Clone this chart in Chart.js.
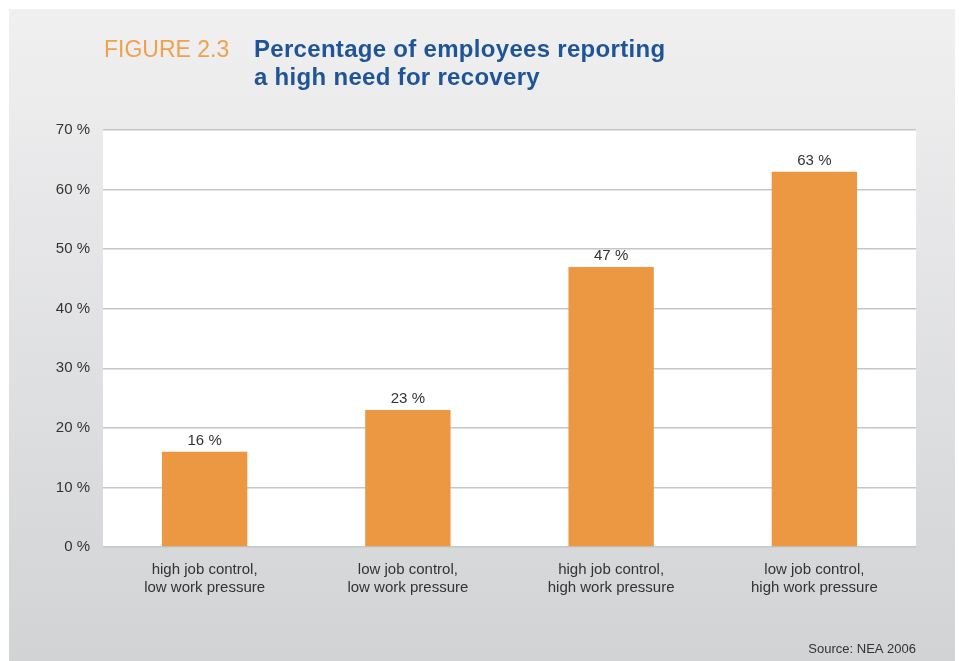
<!DOCTYPE html>
<html>
<head>
<meta charset="utf-8">
<title>Need for recovery</title>
<script src="https://cdn.jsdelivr.net/npm/chart.js@4/dist/chart.umd.min.js"></script>
<style>
  html, body { margin: 0; padding: 0; background: #fff; }
  #wrap { position: relative; width: 959px; height: 661px; }
</style>
</head>
<body>
<div id="wrap"><canvas id="chart" width="959" height="661"></canvas></div>
<script>
const categories = [
  ['high job control,', 'low work pressure'],
  ['low job control,', 'low work pressure'],
  ['high job control,', 'high work pressure'],
  ['low job control,', 'high work pressure']
];
const shares = [16, 23, 47, 63];
const yTicks = [0, 10, 20, 30, 40, 50, 60, 70];

const FONT = '"Liberation Sans", Arial, sans-serif';
const TEXT = '#333333';

// panel gradient, white plot area, heading and source line
const backdrop = {
  id: 'backdrop',
  beforeDraw(chart) {
    const { ctx, chartArea: a } = chart;
    ctx.save();
    ctx.fillStyle = '#ffffff';
    ctx.fillRect(0, 0, chart.width, chart.height);
    const g = ctx.createLinearGradient(0, 9, 0, chart.height);
    g.addColorStop(0, '#f0f0f1');
    g.addColorStop(1, '#d2d3d5');
    ctx.fillStyle = g;
    ctx.fillRect(9, 9, 946, chart.height - 9);
    ctx.fillStyle = '#ffffff';
    ctx.fillRect(a.left, a.top, a.right - a.left, a.bottom - a.top);

    ctx.textBaseline = 'alphabetic';
    ctx.textAlign = 'left';
    ctx.fillStyle = '#f0a04e';
    ctx.font = '23px ' + FONT;
    ctx.fillText('FIGURE 2.3', 104, 57);
    ctx.fillStyle = '#1f5597';
    ctx.font = 'bold 24px ' + FONT;
    ctx.letterSpacing = '0.3px';
    ctx.fillText('Percentage of employees reporting', 254, 57);
    ctx.fillText('a high need for recovery', 254, 85);
    ctx.letterSpacing = '0px';

    ctx.fillStyle = TEXT;
    ctx.font = '13px ' + FONT;
    ctx.textAlign = 'right';
    ctx.fillText('Source: NEA 2006', 916, 653);
    ctx.restore();
  }
};

// value labels above each bar
const barLabels = {
  id: 'barLabels',
  afterDatasetsDraw(chart) {
    const { ctx } = chart;
    ctx.save();
    ctx.fillStyle = TEXT;
    ctx.font = '15px ' + FONT;
    ctx.textAlign = 'center';
    ctx.textBaseline = 'alphabetic';
    chart.getDatasetMeta(0).data.forEach((bar, i) => {
      ctx.fillText(shares[i] + ' %', bar.x, bar.y - 7);
    });
    ctx.restore();
  }
};

new Chart(document.getElementById('chart'), {
  type: 'bar',
  data: {
    labels: categories,
    datasets: [{
      data: shares,
      backgroundColor: '#ec9741',
      borderWidth: 0,
      categoryPercentage: 1,
      barPercentage: 0.42
    }]
  },
  options: {
    responsive: false,
    animation: false,
    layout: { padding: { top: 130, right: 43, bottom: 54, left: 0 } },
    plugins: { legend: { display: false }, tooltip: { enabled: false } },
    scales: {
      x: {
        grid: { display: false },
        border: { display: false },
        ticks: { color: TEXT, font: { family: FONT, size: 15 }, padding: 6, maxRotation: 0 },
        afterFit(scale) { scale.height = 60; }
      },
      y: {
        min: 0,
        max: 70,
        afterBuildTicks(scale) { scale.ticks = yTicks.map(v => ({ value: v })); },
        grid: { color: '#c6c6c6', lineWidth: 1.5, drawTicks: false },
        border: { display: false },
        ticks: {
          color: TEXT,
          font: { family: FONT, size: 15 },
          padding: 13,
          callback: v => v + ' %'
        },
        afterFit(scale) { scale.width = 103; }
      }
    }
  },
  plugins: [backdrop, barLabels]
});
</script>
</body>
</html>
